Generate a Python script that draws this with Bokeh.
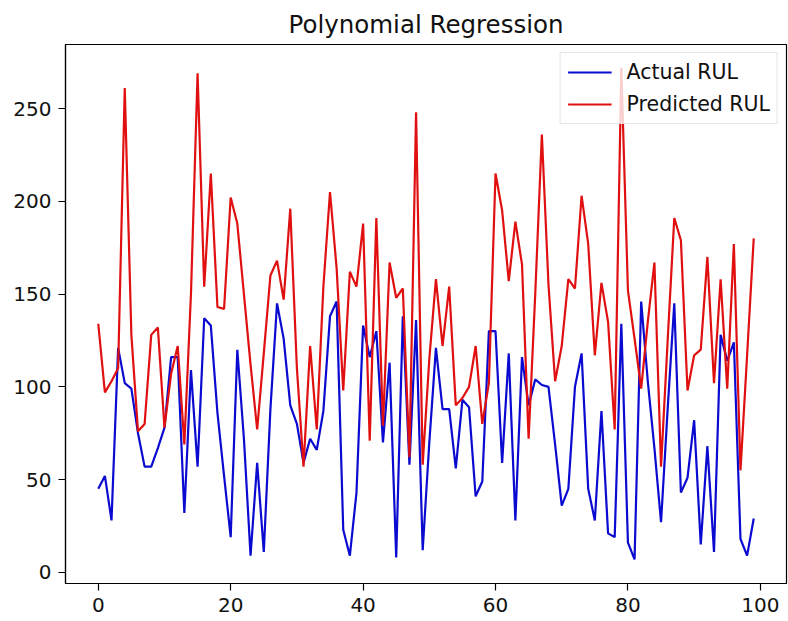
from bokeh.plotting import figure
from bokeh.models import Range1d, Legend, LegendItem, FixedTicker
from bokeh.embed import file_html
from bokeh.resources import INLINE

# values
sample_idx = list(range(100))

actual_rul = [45, 52, 28, 121, 102, 99, 75, 57, 57, 67,
              78, 116, 116, 32, 109, 57, 137, 133, 86, 52,
              19, 120, 72, 9, 59, 11, 88, 145, 126, 90,
              80, 59, 72, 66, 87, 138, 146, 23, 9, 43,
              133, 116, 130, 70, 113, 8, 138, 58, 136, 12,
              70, 121, 88, 88, 56, 93, 89, 41, 49, 130,
              130, 59, 118, 28, 116, 90, 104, 101, 100, 69,
              36, 45, 100, 118, 45, 28, 87, 21, 19, 134,
              16, 7, 146, 103, 67, 27, 88, 145, 43, 51,
              82, 15, 68, 11, 128, 114, 124, 18, 9, 29]

predicted_rul = [134, 97, 103, 110, 261, 128, 76, 80, 128, 132,
                 78, 107, 122, 69, 150, 269, 154, 215, 143, 142,
                 202, 188, 150, 112, 77, 118, 160, 168, 147, 196,
                 110, 57, 122, 77, 154, 205, 164, 98, 162, 154,
                 188, 71, 191, 79, 167, 148, 153, 62, 248, 58,
                 115, 158, 122, 154, 90, 94, 100, 122, 80, 102,
                 215, 195, 157, 189, 166, 72, 150, 236, 155, 103,
                 122, 158, 153, 203, 177, 117, 156, 135, 77, 272,
                 152, 126, 99, 135, 167, 57, 125, 191, 179, 98,
                 117, 120, 170, 102, 158, 99, 177, 55, 117, 180]

x_ticks = [0, 20, 40, 60, 80, 100]
y_ticks = [0, 50, 100, 150, 200, 250]

FONT = "DejaVu Sans"

p = figure(width=788, height=621, output_backend="svg", toolbar_location=None,
           x_range=Range1d(-4.95, 103.95), y_range=Range1d(-6, 284.5),
           title="Polynomial Regression",
           min_border_left=65, min_border_right=2, min_border_top=44, min_border_bottom=38)

p.title.align = "center"
p.title.text_font = FONT
p.title.text_font_size = "24.5px"
p.title.text_font_style = "normal"
p.title.text_color = "#111111"
p.title.text_line_height = 1.0
p.title.standoff = 12

p.xgrid.visible = False
p.ygrid.visible = False
p.outline_line_color = "black"
p.outline_line_width = 1.2
p.background_fill_color = "white"
p.border_fill_color = "white"

for ax in (p.xaxis, p.yaxis):
    ax.axis_line_color = "black"
    ax.axis_line_width = 1.2
    ax.major_tick_line_color = "black"
    ax.major_tick_line_width = 1.2
    ax.major_tick_out = 7
    ax.major_tick_in = 0
    ax.minor_tick_line_color = None
    ax.major_label_text_font = FONT
    ax.major_label_text_font_size = "20px"
    ax.major_label_text_color = "#111111"
    ax.major_label_standoff = 7

p.xaxis.ticker = FixedTicker(ticks=x_ticks)
p.yaxis.ticker = FixedTicker(ticks=y_ticks)

r_act = p.line(sample_idx, actual_rul, line_color="#0a0ad0", line_width=2.2)
r_pred = p.line(sample_idx, predicted_rul, line_color="#e01010", line_width=2.2)

legend = Legend(items=[LegendItem(label="Actual RUL", renderers=[r_act]),
                       LegendItem(label="Predicted RUL", renderers=[r_pred])],
                location="top_right", margin=8, padding=7, spacing=8,
                glyph_width=44, glyph_height=22, label_height=22, label_standoff=15,
                label_text_font=FONT, label_text_font_size="20.5px", label_text_color="#111111",
                border_line_color="#cccccc", border_line_width=1,
                background_fill_color="white", background_fill_alpha=0.8)
p.add_layout(legend)

open("out.html", "w").write(file_html(p, INLINE))
